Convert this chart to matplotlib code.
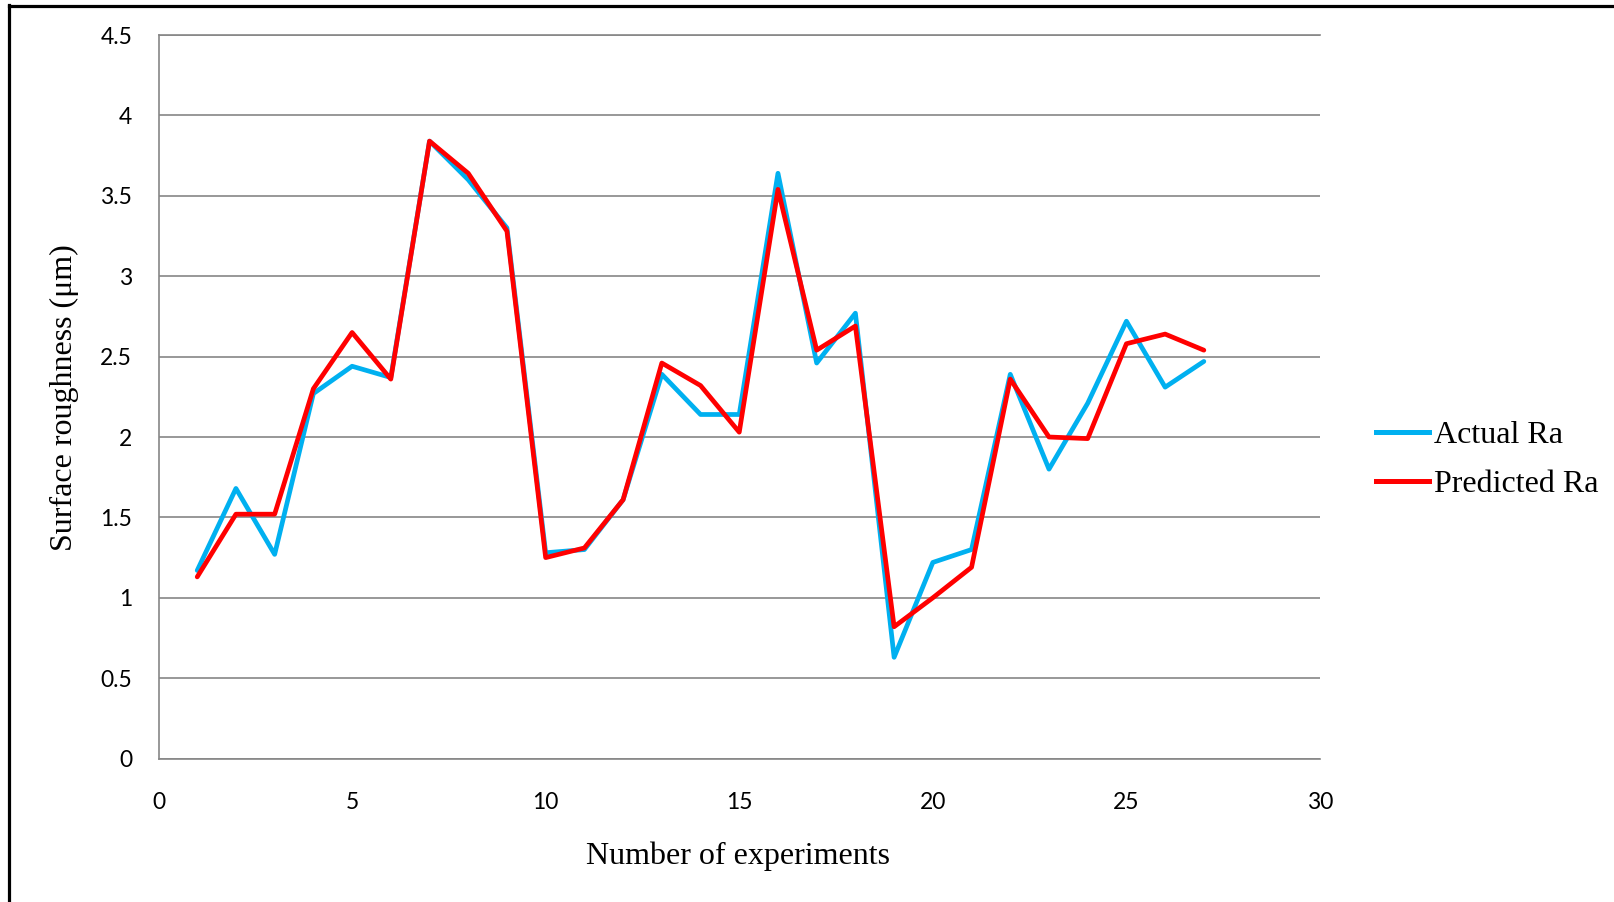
import matplotlib
matplotlib.use("Agg")
import matplotlib.pyplot as plt
from matplotlib.lines import Line2D

# Surface roughness per experiment: measured vs model prediction
experiments = list(range(1, 28))
actual_ra = [1.17, 1.68, 1.27, 2.27, 2.44, 2.37, 3.84, 3.60, 3.30, 1.28,
             1.30, 1.61, 2.39, 2.14, 2.14, 3.64, 2.46, 2.77, 0.63, 1.22,
             1.30, 2.39, 1.80, 2.21, 2.72, 2.31, 2.47]
predicted_ra = [1.13, 1.52, 1.52, 2.30, 2.65, 2.36, 3.84, 3.64, 3.28, 1.25,
                1.31, 1.61, 2.46, 2.32, 2.03, 3.54, 2.54, 2.69, 0.82, 1.00,
                1.19, 2.36, 2.00, 1.99, 2.58, 2.64, 2.54]
x_ticks = [0, 5, 10, 15, 20, 25, 30]
y_ticks = [0, 0.5, 1, 1.5, 2, 2.5, 3, 3.5, 4, 4.5]
y_tick_labels = ["0", "0.5", "1", "1.5", "2", "2.5", "3", "3.5", "4", "4.5"]

W, H = 1615, 902
fig = plt.figure(figsize=(W / 100, H / 100), dpi=100)
fig.patch.set_facecolor("white")

left, right = 158.5 / W, 1320 / W
top, bottom = 1 - 35 / H, 1 - 758.6 / H
ax = fig.add_axes([left, bottom, right - left, top - bottom])

grid_col = "#868686"
ax.plot(experiments, actual_ra, color="#00B0F0", lw=3.4, label="Actual Ra",
        solid_joinstyle="round", solid_capstyle="round", zorder=3)
ax.plot(experiments, predicted_ra, color="#FF0000", lw=3.4, label="Predicted Ra",
        solid_joinstyle="round", solid_capstyle="round", zorder=4)

ax.set_xlim(0, 30)
ax.set_ylim(0, 4.5)
ax.set_xticks(x_ticks)
ax.set_yticks(y_ticks)
ax.set_yticklabels(y_tick_labels)
ax.yaxis.grid(True, color=grid_col, lw=1.2)
ax.set_axisbelow(True)
ax.tick_params(length=0)
ax.tick_params(axis="y", pad=19)
ax.tick_params(axis="x", pad=24)
for lab in ax.get_xticklabels() + ax.get_yticklabels():
    lab.set_fontfamily("Lato")
    lab.set_fontsize(16.5)
    lab.set_color("#000000")

ax.spines["right"].set_visible(False)
for side in ("left", "bottom", "top"):
    ax.spines[side].set_color(grid_col)
    ax.spines[side].set_linewidth(1.2)

serif = ["Liberation Serif", "DejaVu Serif"]
fig.text(738 / W, 1 - 856 / H, "Number of experiments", family=serif,
         fontsize=23, ha="center", va="center")
fig.text(64 / W, 1 - 398 / H, "Surface roughness (\u03bcm)", family=serif,
         fontsize=23, ha="center", va="center", rotation=90)

handles = [Line2D([], [], color="#00B0F0", lw=3.6),
           Line2D([], [], color="#FF0000", lw=3.6)]
fig.legend(handles, ["Actual Ra", "Predicted Ra"], loc="center left",
           bbox_to_anchor=(1354 / W, 1 - 460 / H), frameon=False,
           prop={"family": serif, "size": 23}, handlelength=1.66,
           handletextpad=0.15, labelspacing=0.62, borderpad=0.2)

# frame lines along the top and left edges of the figure
fig.add_artist(Line2D([9.5 / W, 9.5 / W], [0, 1 - 5 / H], transform=fig.transFigure,
                      color="black", lw=2.3, solid_capstyle="projecting"))
fig.add_artist(Line2D([9.5 / W, 1], [1 - 5.5 / H, 1 - 5.5 / H], transform=fig.transFigure,
                      color="black", lw=2.3, solid_capstyle="projecting"))

fig.savefig("out.png", dpi=100)
